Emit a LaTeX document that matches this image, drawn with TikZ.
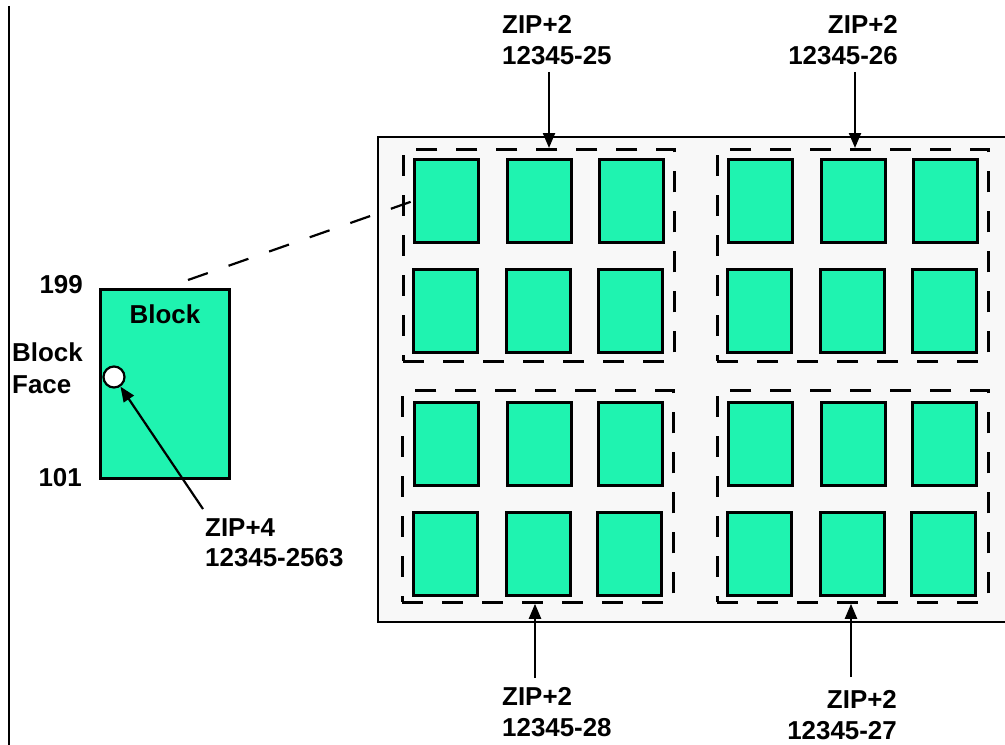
\documentclass[tikz,border=0pt]{standalone}
\usepackage{fontspec}
\setmainfont{Liberation Sans}
\usetikzlibrary{arrows.meta,shapes.geometric}
\definecolor{boxgreen}{RGB}{31,243,176}
\definecolor{sheet}{RGB}{248,248,248}
\tikzset{
  lbl/.style={inner sep=0pt, font=\fontsize{26}{31}\selectfont\bfseries},
  gbox/.style={draw=black, line width=3bp, fill=boxgreen, minimum width=64bp, minimum height=83bp, inner sep=0pt, anchor=north west},
  grp/.style={draw=black, line width=2.8bp, dash pattern=on 21bp off 19bp, minimum width=271bp, minimum height=212bp, inner sep=0pt, anchor=north west},
  arr/.style={line width=2.2bp, -{Triangle[length=15bp,width=12bp]}},
}
\begin{document}
\begin{tikzpicture}[x=1bp,y=-1bp]
\useasboundingbox (0,0) rectangle (1005,745);
\clip (0,0) rectangle (1005,745);
% left border line
\draw[line width=2.4bp] (9,6) -- (9,745);
% big sheet
\node[draw=black, line width=2.2bp, fill=sheet, minimum width=640bp, minimum height=485bp, inner sep=0pt, anchor=north west] (sheet) at (377,136) {};
% groups
\node[grp] (g1) at (402,148) {};
\node[grp] (g2) at (716,148) {};
\node[grp] (g3) at (401,389) {};
\node[grp] (g4) at (716,389) {};
% green boxes group 1
\node[gbox] (a11) at (413,158) {};
\node[gbox] (a12) at (506,158) {};
\node[gbox] (a13) at (598,158) {};
\node[gbox] (a21) at (412,268) {};
\node[gbox] (a22) at (505,268) {};
\node[gbox] (a23) at (597,268) {};
% group 2
\node[gbox] (b11) at (727,158) {};
\node[gbox] (b12) at (820,158) {};
\node[gbox] (b13) at (912,158) {};
\node[gbox] (b21) at (726,268) {};
\node[gbox] (b22) at (819,268) {};
\node[gbox] (b23) at (911,268) {};
% group 3
\node[gbox] (c11) at (413,401) {};
\node[gbox] (c12) at (506,401) {};
\node[gbox] (c13) at (597,401) {};
\node[gbox] (c21) at (412,511) {};
\node[gbox] (c22) at (505,511) {};
\node[gbox] (c23) at (596,511) {};
% group 4
\node[gbox] (d11) at (727,401) {};
\node[gbox] (d12) at (820,401) {};
\node[gbox] (d13) at (911,401) {};
\node[gbox] (d21) at (726,511) {};
\node[gbox] (d22) at (819,511) {};
\node[gbox] (d23) at (910,511) {};
% block
\node[draw=black, line width=2.6bp, fill=boxgreen, minimum width=129bp, minimum height=189bp, inner sep=0pt, anchor=north west] (block) at (99,288) {};
\node[lbl, anchor=north] (blocktxt) at (165,305) {Block};
\node[draw=black, line width=2.2bp, fill=white, circle, minimum size=21bp, inner sep=0pt] (face) at (114,377) {};
\node[lbl, anchor=north east] (n199) at (83,275) {199};
\node[lbl, anchor=north east] (n101) at (82,468) {101};
\node[lbl, anchor=north west, align=left, font=\fontsize{26}{32}\selectfont\bfseries] (bf) at (12,343) {Block\\Face};
% ZIP+4
\node[lbl, anchor=north west, align=left] (zip4) at (205,518) {ZIP+4\\12345-2563};
\coordinate (z4s) at (203,509);
\draw[arr] (z4s) -- (face);
% dashed lead
\coordinate (lead) at (188,280);
\draw[line width=2.2bp, dash pattern=on 21bp off 22bp] (lead) -- (a11.west);
% top labels
\node[lbl, anchor=north west, align=left] (z25) at (502,15) {ZIP+2\\12345-25};
\node[lbl, anchor=north east, align=right] (z26) at (898,15) {ZIP+2\\12345-26};
\coordinate (t25) at (549,72);
\coordinate (t26) at (855,72);
\draw[arr] (t25) -- (t25 |- g1.north);
\draw[arr] (t26) -- (t26 |- g2.north);
% bottom labels
\node[lbl, anchor=north west, align=left] (z28) at (502,687) {ZIP+2\\12345-28};
\node[lbl, anchor=north east, align=right] (z27) at (897,690) {ZIP+2\\12345-27};
\coordinate (t28) at (535,678);
\coordinate (t27) at (851,677);
\draw[arr] (t28) -- (t28 |- g3.south);
\draw[arr] (t27) -- (t27 |- g4.south);
\end{tikzpicture}
\end{document}
